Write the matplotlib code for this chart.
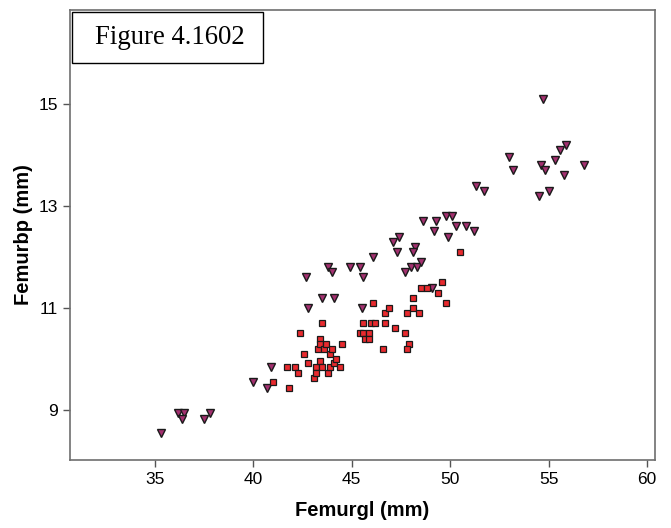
import matplotlib.pyplot as plt
from matplotlib.patches import Rectangle

# group 1 - squares
sq_x = [41.0, 41.8, 41.7, 42.1, 42.3, 42.4, 42.6, 42.8, 43.1, 43.2, 43.2, 43.3, 43.4, 43.4,
        43.4, 43.5, 43.5, 43.6, 43.7, 43.8, 43.9, 43.9, 44.0, 44.1, 44.2, 44.4, 44.5, 45.4,
        45.6, 45.6, 45.7, 45.9, 45.9, 46.0, 46.2, 46.1, 46.6, 46.7, 46.7, 46.9, 47.2, 47.7,
        47.8, 47.9, 47.8, 48.1, 48.1, 48.4, 48.5, 48.8, 49.4, 49.6, 49.8, 50.5]
sq_y = [9.54, 9.44, 9.85, 9.85, 9.73, 10.5, 10.1, 9.93, 9.63, 9.85, 9.73, 10.2, 10.4, 10.3,
        9.97, 10.7, 9.85, 10.2, 10.3, 9.73, 10.1, 9.85, 10.2, 9.93, 10.0, 9.85, 10.3, 10.5,
        10.5, 10.7, 10.4, 10.5, 10.4, 10.7, 10.7, 11.1, 10.2, 10.9, 10.7, 11.0, 10.6, 10.5,
        10.9, 10.3, 10.2, 11.2, 11.0, 10.9, 11.4, 11.4, 11.3, 11.5, 11.1, 12.1]

# group 2 - triangles
tr_x = [35.3, 36.2, 36.5, 36.4, 37.5, 37.8, 40.0, 40.7, 40.9, 42.7, 42.8, 43.5, 44.1, 43.8,
        44.0, 44.9, 45.4, 45.6, 45.5, 46.1, 47.1, 47.4, 47.3, 48.2, 48.1, 47.7, 48.0, 48.3,
        48.5, 48.6, 49.3, 49.2, 49.8, 50.1, 49.9, 50.3, 50.8, 51.2, 49.1, 51.3, 51.7, 53.0,
        53.2, 54.7, 54.6, 54.8, 55.3, 55.6, 55.9, 56.8, 55.8, 54.5, 55.0]
tr_y = [8.55, 8.95, 8.95, 8.83, 8.83, 8.95, 9.54, 9.44, 9.85, 11.6, 11.0, 11.2, 11.2, 11.8,
        11.7, 11.8, 11.8, 11.6, 11.0, 12.0, 12.3, 12.4, 12.1, 12.2, 12.1, 11.7, 11.8, 11.8,
        11.9, 12.7, 12.7, 12.5, 12.8, 12.8, 12.4, 12.6, 12.6, 12.5, 11.4, 13.4, 13.3, 13.95,
        13.7, 15.1, 13.8, 13.7, 13.9, 14.1, 14.2, 13.8, 13.6, 13.2, 13.3]

x_ticks = [35, 40, 45, 50, 55, 60]
y_ticks = [9, 11, 13, 15]

plt.rcParams['font.family'] = ['Liberation Sans', 'DejaVu Sans']

W, H = 671, 528
fig = plt.figure(figsize=(W / 100, H / 100), dpi=100)
ax = fig.add_axes([70 / W, 1 - 460 / H, 585 / W, 450 / H])

ax.plot(tr_x, tr_y, linestyle='none', marker='v', markersize=6,
        markerfacecolor='#a3306f', markeredgecolor='#1a1a1a', markeredgewidth=1.0)
ax.plot(sq_x, sq_y, linestyle='none', marker='s', markersize=5,
        markerfacecolor='#e82a2e', markeredgecolor='#1a1a1a', markeredgewidth=0.9)

ax.set_xlim(30.7, 60.4)
ax.set_ylim(8.02, 16.84)
ax.set_xticks(x_ticks)
ax.set_yticks(y_ticks)
ax.tick_params(direction='out', length=5, width=1, color='#555555', labelsize=12.5)

for s in ax.spines.values():
    s.set_color('#6e6e6e')
    s.set_linewidth(1.2)

ax.set_xlabel('Femurgl (mm)', fontsize=14.5, fontweight='bold', labelpad=10)
ax.set_ylabel('Femurbp (mm)', fontsize=14.5, fontweight='bold', labelpad=4)

# caption box in the top-left corner
fig.patches.append(Rectangle((72 / W, 1 - 63 / H), 191 / W, 51 / H, transform=fig.transFigure,
                             facecolor='white', edgecolor='black', linewidth=1, zorder=5))
fig.text(95 / W, 1 - 37 / H, 'Figure 4.1602', family='Liberation Serif', fontsize=19.3,
         va='center', ha='left', zorder=6)

fig.savefig('out.png', dpi=100)
